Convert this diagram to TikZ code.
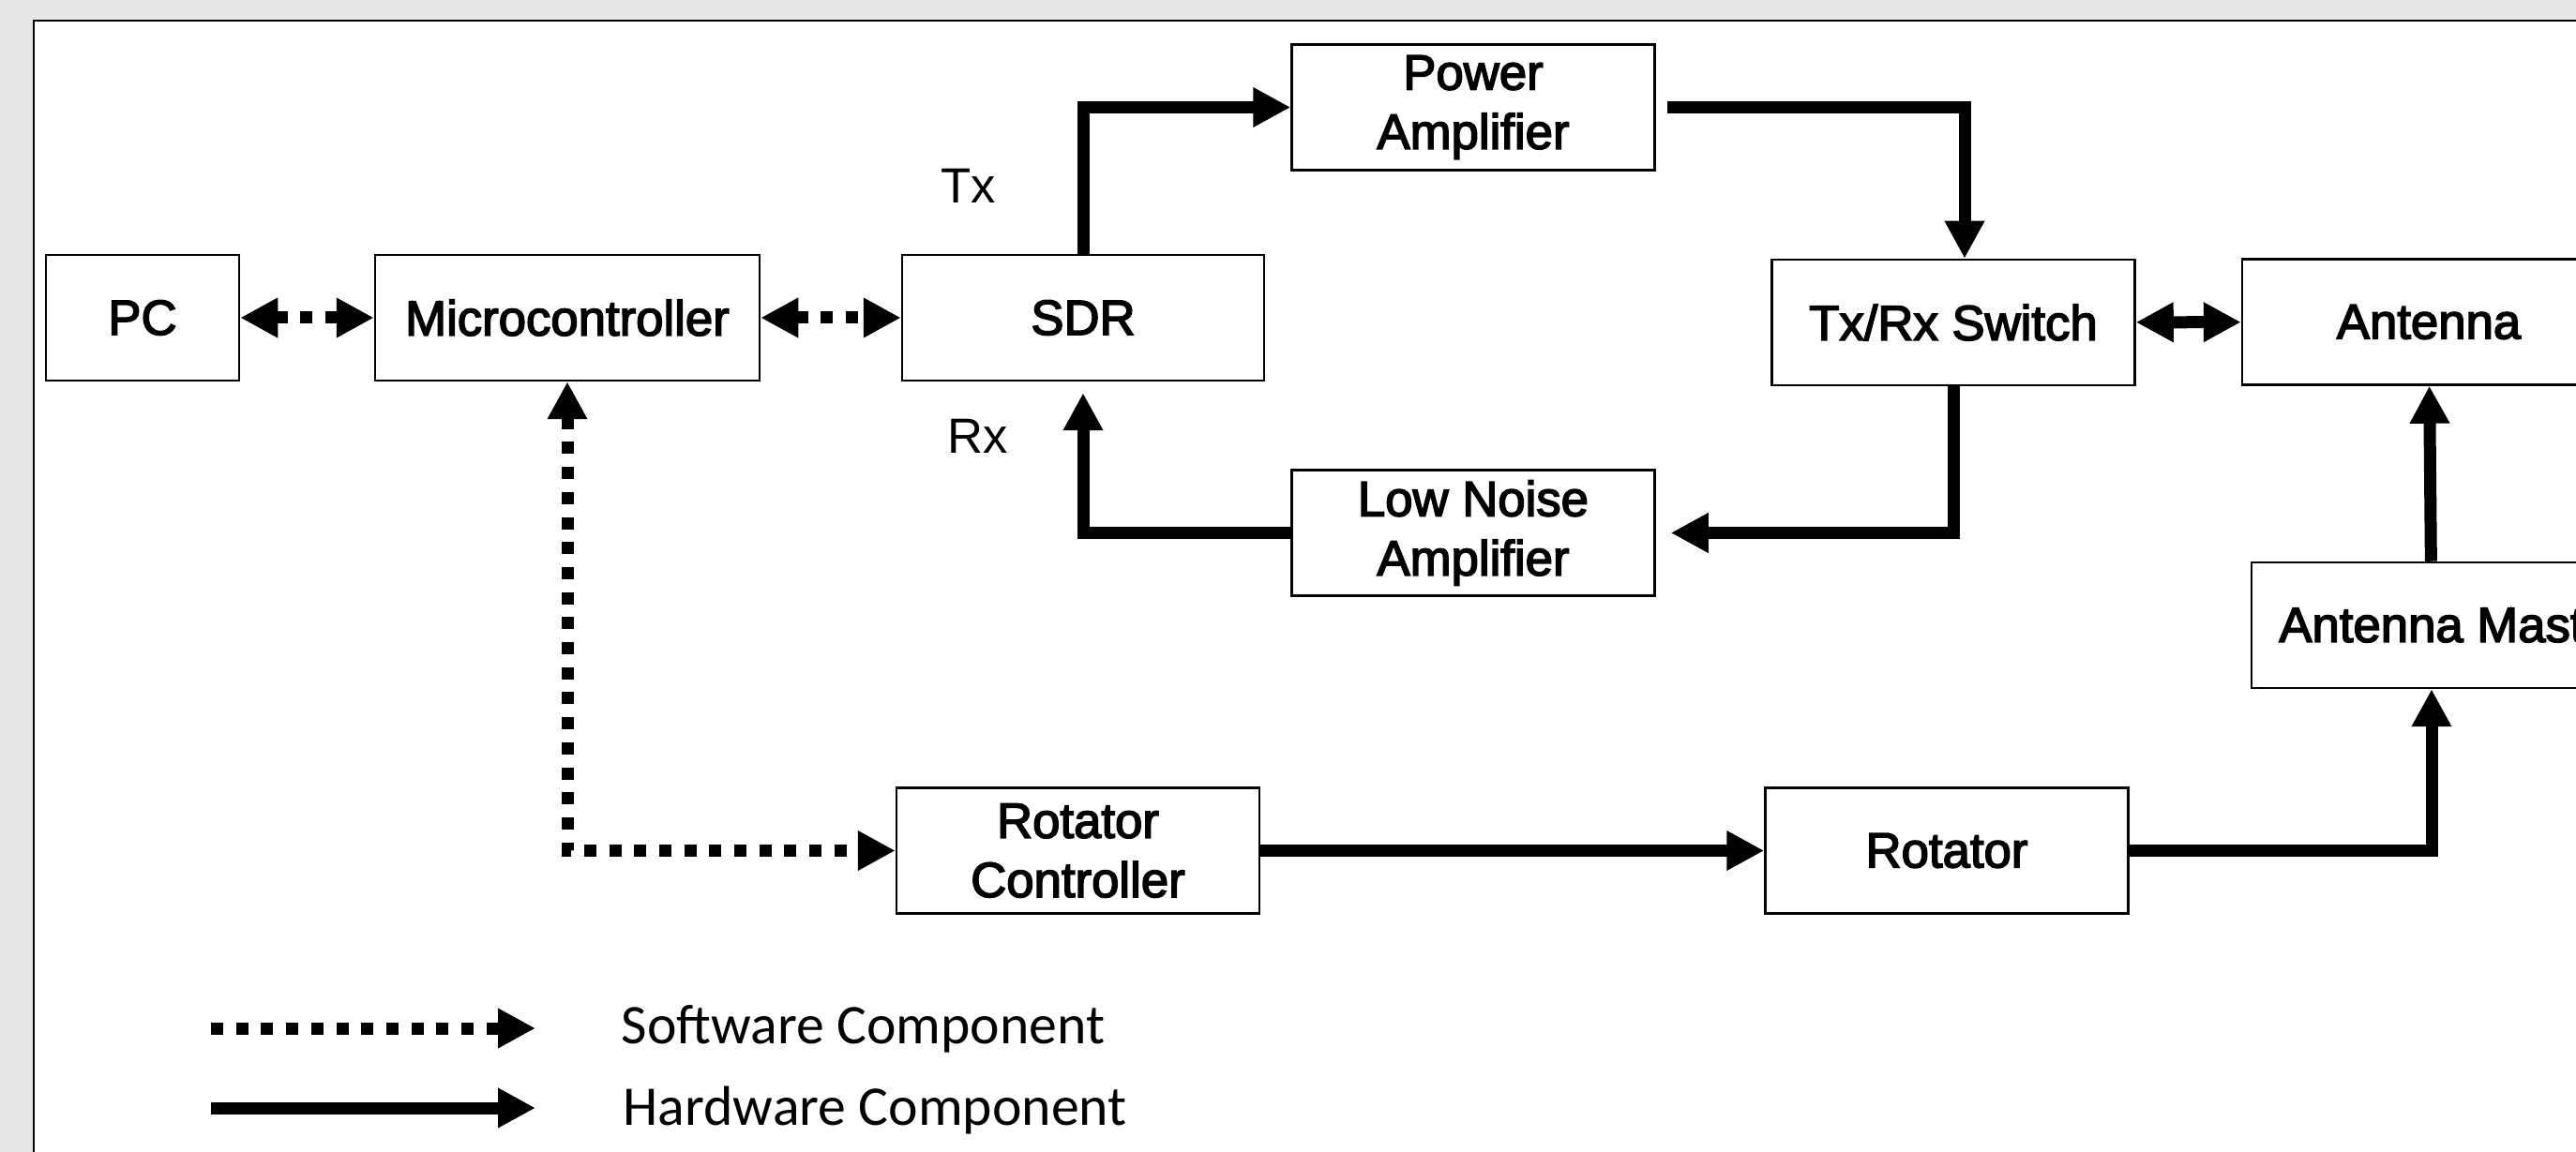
\documentclass[tikz,border=0pt]{standalone}
\usepackage{fontspec}
\newfontfamily\blkfont{Liberation Sans}[FakeBold=3]
\newfontfamily\lblfont{Liberation Sans}
\newfontfamily\legfont{Carlito}
\usetikzlibrary{arrows.meta}
\definecolor{bggray}{RGB}{230,230,230}
\begin{document}
\begin{tikzpicture}[x=0.1mm, y=-0.1mm, line join=miter, >={Triangle[length=4mm,width=4mm]},
 blk/.style={draw, line width=0.25mm, fill=white, minimum width=38.7mm, minimum height=13.4mm, inner sep=0pt, align=center, font=\blkfont\fontsize{15}{18}\selectfont},
 hw/.style={->, line width=1.3mm},
 sw/.style={<->, line width=1.3mm, dash pattern=on 1.3mm off 1.37mm},
 lbl/.style={font=\lblfont\fontsize{15}{18}\selectfont},
 leg/.style={anchor=base west, inner sep=0pt, font=\legfont\fontsize{17}{20}\selectfont}]
 \def\W{2747}\def\H{1229}
 \useasboundingbox (0,0) rectangle (\W,\H);
 \clip (0,0) rectangle (\W,\H);
 \fill[bggray] (0,0) rectangle (\W,\H);
 \draw[line width=0.25mm, fill=white] (36,22) rectangle (\W+50,\H+50);
 \node[blk, minimum width=20.6mm] (pc) at (152,339) {PC};
 \node[blk, minimum width=41mm] (mcu) at (605,339) {Microcontroller};
 \node[blk, minimum width=38.6mm] (sdr) at (1155,339) {SDR};
 \node[blk] (pa) at (1571,114.5) {Power\\Amplifier};
 \node[blk] (lna) at (1571,568.5) {Low Noise\\Amplifier};
 \node[blk] (txrx) at (2083,344) {Tx/Rx Switch};
 \node[blk, minimum width=39.8mm] (ant) at (2590,343.5) {Antenna};
 \node[blk, minimum width=38.4mm] (mast) at (2593,667) {Antenna Mast};
 \node[blk] (rc) at (1149.5,907.5) {Rotator\\Controller};
 \node[blk] (rot) at (2076,907.5) {Rotator};
 \node[lbl] (tx) at (1033,198) {Tx};
 \node[lbl] (rx) at (1043,465) {Rx};
 \draw[sw] (pc) -- (mcu);
 \draw[sw] (mcu) -- (sdr);
 \draw[sw] (mcu.south) |- (rc.west);
 \draw[hw] (sdr.north) |- (pa.west);
 \draw[hw, shorten <=1.2mm] (pa.east) -| ([xshift=1.2mm]txrx.north);
 \draw[hw, shorten >=1.6mm] (txrx.south) |- (lna.east);
 \draw[hw, shorten >=1.2mm] (lna.west) -| (sdr.south);
 \draw[hw, <->] (txrx) -- (ant);
 \draw[hw] (rc) -- (rot);
 \draw[hw] (rot.east) -| (mast.south);
 \draw[hw] (mast) -- (ant);
 \coordinate (swa) at (225,1097); \coordinate (swb) at (571,1097);
 \coordinate (hwa) at (225,1182); \coordinate (hwb) at (571,1182);
 \draw[sw, ->] (swa) -- (swb);
 \draw[hw] (hwa) -- (hwb);
 \node[leg] (swt) at (662,1113) {Software Component};
 \node[leg] (hwt) at (664,1200) {Hardware Component};
\end{tikzpicture}
\end{document}
